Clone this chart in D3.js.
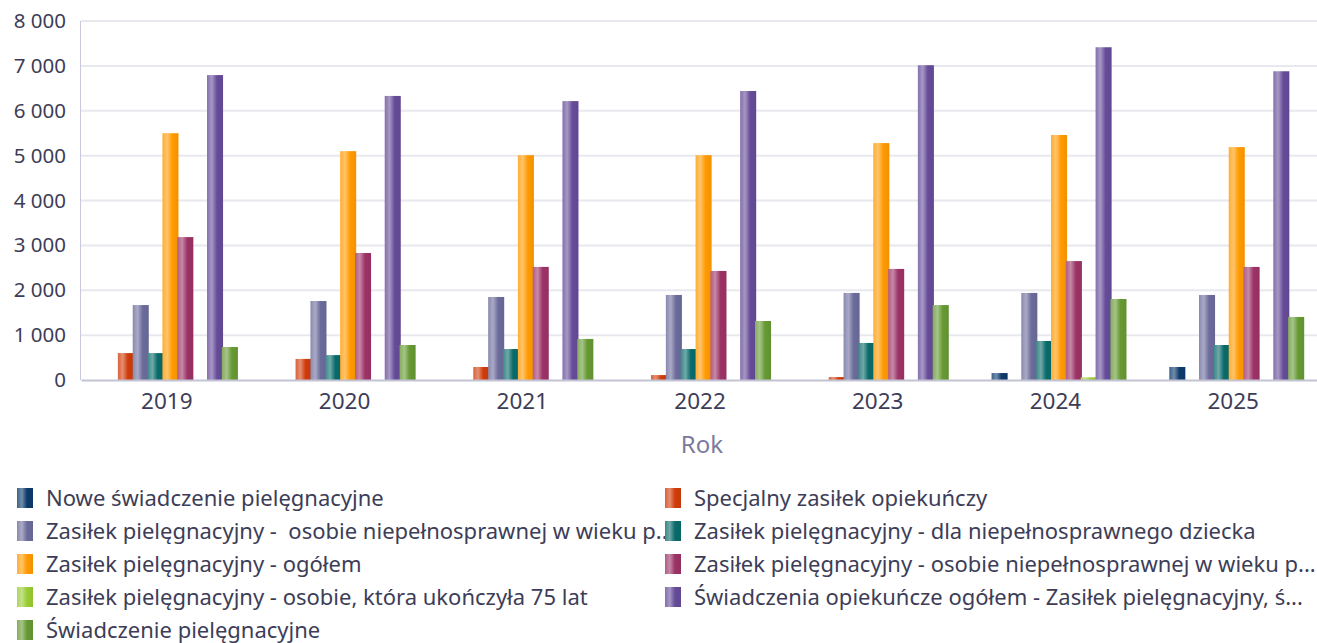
<!DOCTYPE html>
<html>
<head>
<meta charset="utf-8">
<script src="https://cdn.jsdelivr.net/npm/d3@7"></script>
<style>
  body { margin: 0; background: #fff; }
  svg { display: block; font-family: "Noto Sans", "Open Sans", sans-serif; }
</style>
</head>
<body>
<svg id="chart"></svg>
<script>
const WIDTH = 1317;
const HEIGHT = 643;

// data
const years = ['2019', '2020', '2021', '2022', '2023', '2024', '2025'];
const seriesNames = [
  'Nowe świadczenie pielęgnacyjne',
  'Specjalny zasiłek opiekuńczy',
  'Zasiłek pielęgnacyjny -  osobie niepełnosprawnej w wieku p...',
  'Zasiłek pielęgnacyjny - dla niepełnosprawnego dziecka',
  'Zasiłek pielęgnacyjny - ogółem',
  'Zasiłek pielęgnacyjny - osobie niepełnosprawnej w wieku p...',
  'Zasiłek pielęgnacyjny - osobie, która ukończyła 75 lat',
  'Świadczenia opiekuńcze ogółem - Zasiłek pielęgnacyjny, ś...',
  'Świadczenie pielęgnacyjne'
];
const seriesColors = ['#0e3b6b', '#d03c0a', '#6c6c9c', '#0a6b6b', '#ff9a00', '#9c3366', '#99cc33', '#664c99', '#669933'];

const nowe       = [0, 0, 0, 0, 0, 155, 290];
const specjalny  = [600, 470, 290, 110, 65, 0, 0];
const zpWiek1    = [1670, 1760, 1850, 1895, 1940, 1940, 1895];
const zpDziecko  = [600, 555, 690, 690, 825, 870, 780];
const zpOgolem   = [5500, 5100, 5010, 5010, 5280, 5460, 5190];
const zpWiek2    = [3185, 2830, 2520, 2430, 2475, 2650, 2520];
const zp75       = [0, 0, 0, 0, 0, 60, 0];
const opiekuncze = [6795, 6330, 6215, 6440, 7015, 7415, 6880];
const swiadczenie = [735, 780, 915, 1315, 1670, 1805, 1405];

const seriesValues = [nowe, specjalny, zpWiek1, zpDziecko, zpOgolem, zpWiek2, zp75, opiekuncze, swiadczenie];
const yTicks = [0, 1000, 2000, 3000, 4000, 5000, 6000, 7000, 8000];

const PLOT_LEFT = 81;
const PLOT_RIGHT = 1325;
const PLOT_TOP = 21;
const PLOT_BOTTOM = 380;

const svg = d3.select('#chart')
  .attr('width', WIDTH)
  .attr('height', HEIGHT);

// gradients for the shaded bars
const defs = svg.append('defs');
seriesColors.forEach((c, i) => {
  const base = d3.rgb(c);
  const light = d3.interpolateRgb(c, '#ffffff');
  const g = defs.append('linearGradient')
    .attr('id', 'grad' + i)
    .attr('x1', '0%').attr('x2', '100%')
    .attr('y1', '0%').attr('y2', '0%');
  g.append('stop').attr('offset', '0%').attr('stop-color', light(0.2));
  g.append('stop').attr('offset', '30%').attr('stop-color', light(0.42));
  g.append('stop').attr('offset', '62%').attr('stop-color', c);
  g.append('stop').attr('offset', '100%').attr('stop-color', base.darker(0.15));
});

const yScale = d3.scaleLinear()
  .domain([0, 8000])
  .range([PLOT_BOTTOM, PLOT_TOP]);

const xScale = d3.scaleBand()
  .domain(years)
  .range([PLOT_LEFT, PLOT_RIGHT])
  .padding(0);

const xSub = d3.scaleBand()
  .domain(d3.range(seriesNames.length))
  .range([22, xScale.bandwidth() - 22])
  .padding(0);

const fmt = v => d3.format(',')(v).replace(/,/g, ' ');

// grid
svg.append('g')
  .selectAll('line')
  .data(yTicks.filter(t => t > 0))
  .enter()
  .append('line')
  .attr('x1', PLOT_LEFT)
  .attr('x2', PLOT_RIGHT)
  .attr('y1', d => yScale(d))
  .attr('y2', d => yScale(d))
  .attr('stroke', '#e8e8ef')
  .attr('stroke-width', 2);

// y axis
const yAxis = d3.axisLeft(yScale)
  .tickValues(yTicks)
  .tickFormat(fmt)
  .tickSize(0)
  .tickPadding(15);

const yG = svg.append('g')
  .attr('transform', `translate(${PLOT_LEFT}, 0)`)
  .call(yAxis);
yG.select('.domain').remove();
yG.selectAll('text')
  .attr('font-size', 20.5)
  .attr('fill', '#3d3d57')
  .attr('font-family', '"Noto Sans", sans-serif');

svg.append('line')
  .attr('x1', PLOT_LEFT - 0.5).attr('x2', PLOT_LEFT - 0.5)
  .attr('y1', PLOT_TOP).attr('y2', PLOT_BOTTOM)
  .attr('stroke', '#c9c9dd')
  .attr('stroke-width', 1);

// bars
const groups = svg.append('g')
  .selectAll('g')
  .data(years)
  .enter()
  .append('g')
  .attr('transform', d => `translate(${xScale(d)}, 0)`);

groups.selectAll('rect')
  .data((y, yi) => seriesValues.map((vals, si) => ({ si, v: vals[yi] })))
  .enter()
  .append('rect')
  .attr('x', d => xSub(d.si))
  .attr('width', xSub.bandwidth() + 1.2)
  .attr('y', d => yScale(d.v))
  .attr('height', d => PLOT_BOTTOM - yScale(d.v))
  .attr('fill', d => `url(#grad${d.si})`);

// x axis
const xAxis = d3.axisBottom(xScale)
  .tickSize(0)
  .tickPadding(13);

const xG = svg.append('g')
  .attr('transform', `translate(-3, ${PLOT_BOTTOM})`)
  .call(xAxis);
xG.select('.domain')
  .attr('transform', 'translate(3, 0)')
  .attr('stroke', '#c3c3d3')
  .attr('stroke-width', 2);
xG.selectAll('text')
  .attr('font-size', 22.5)
  .attr('fill', '#3d3d57')
  .attr('font-family', '"Noto Sans", sans-serif');

svg.append('text')
  .text('Rok')
  .attr('x', 702)
  .attr('y', 453)
  .attr('text-anchor', 'middle')
  .attr('font-size', 24)
  .attr('fill', '#7a7a9e');

// legend
const legend = svg.append('g');
const LEG_COLS = [17, 665];
const LEG_ROW0 = 498;
const LEG_ROW_H = 33;

const items = legend.selectAll('g')
  .data(seriesNames)
  .enter()
  .append('g')
  .attr('transform', (d, i) => `translate(${LEG_COLS[i % 2]}, ${LEG_ROW0 + Math.floor(i / 2) * LEG_ROW_H})`);

items.append('rect')
  .attr('x', 0)
  .attr('y', -10)
  .attr('width', 16)
  .attr('height', 20)
  .attr('fill', (d, i) => `url(#grad${i})`);

items.append('text')
  .text(d => d)
  .attr('x', 29)
  .attr('y', 8)
  .attr('font-size', 22)
  .attr('fill', '#3d3d57')
  .style('white-space', 'pre');
</script>
</body>
</html>
